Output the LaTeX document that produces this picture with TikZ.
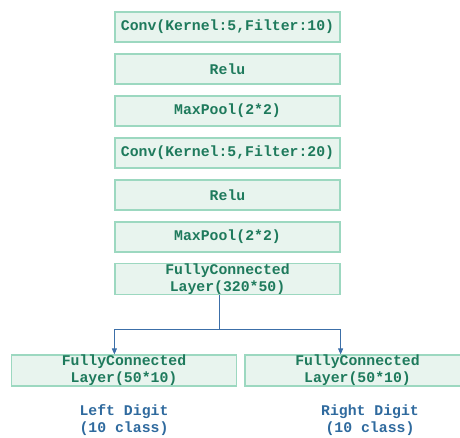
\documentclass[tikz,border=0pt]{standalone}
\usepackage{fontspec}
\setmonofont{Liberation Mono}
\usetikzlibrary{arrows.meta}
\definecolor{boxfill}{HTML}{E8F4EE}
\definecolor{boxline}{HTML}{9CD8C0}
\definecolor{boxtext}{HTML}{1E7A5C}
\definecolor{linkblue}{HTML}{3C6FA8}
\definecolor{outtext}{HTML}{2F6A9E}
\begin{document}
\begin{tikzpicture}[x=1pt,y=-1pt]
\tikzstyle{layer}=[draw=boxline, line width=1.2pt, fill=boxfill, text=boxtext, minimum width=225pt, minimum height=30pt, inner sep=0pt, align=center, font=\ttfamily\bfseries\fontsize{14.8}{17}\selectfont]
\tikzstyle{link}=[draw=linkblue, line width=0.9pt, -{Triangle[width=5pt,length=6pt]}]
\tikzstyle{outlabel}=[text=outtext, align=center, font=\ttfamily\bfseries\fontsize{14.8}{17}\selectfont]
\useasboundingbox (0,0) rectangle (460,437);
% feature extractor
\node[layer] (conv1) at (227.5,27) {Conv(Kernel:5,Filter:10)};
\node[layer] (relu1) at (227.5,69) {Relu};
\node[layer] (pool1) at (227.5,111) {MaxPool(2*2)};
\node[layer] (conv2) at (227.5,153) {Conv(Kernel:5,Filter:20)};
\node[layer] (relu2) at (227.5,195) {Relu};
\node[layer] (pool2) at (227.5,237) {MaxPool(2*2)};
\node[layer] (fc) at (227.5,279) {FullyConnected\\Layer(320*50)};
% two heads
\node[layer, minimum height=31pt] (left) at (124,370.5) {FullyConnected\\Layer(50*10)};
\node[layer, minimum height=31pt] (right) at (357.5,370.5) {FullyConnected\\Layer(50*10)};
\node[outlabel] (lefttxt) at (124,420) {Left Digit\\(10 class)};
\node[outlabel] (righttxt) at (370,420) {Right Digit\\(10 class)};
% split
\coordinate (split) at (219,329);
\draw[draw=linkblue, line width=0.9pt] (split |- fc.south) -- (split);
\draw[link] (split) -| (left.north -| fc.west);
\draw[link] (split) -| (right.north -| fc.east);
\end{tikzpicture}
\end{document}
